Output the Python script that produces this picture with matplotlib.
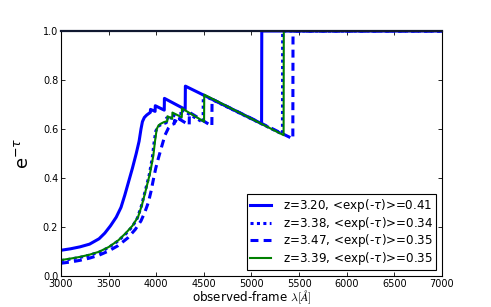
import matplotlib
matplotlib.use("Agg")
import matplotlib.pyplot as plt

# transmission curves (wavelength in Angstrom, exp(-tau))
lam_a = [3000, 3100, 3200, 3300, 3400, 3460, 3520, 3580, 3630, 3670, 3710, 3750,
         3790, 3820, 3840, 3855, 3875, 3900, 3938, 3940, 3988, 3990, 4084, 4086,
         4304, 4306, 5106, 5108, 7000]
t_a = [0.105, 0.111, 0.119, 0.13, 0.152, 0.175, 0.205, 0.24, 0.28, 0.33, 0.385, 0.44,
       0.5, 0.55, 0.6, 0.63, 0.647, 0.657, 0.668, 0.68, 0.672, 0.695, 0.677, 0.725,
       0.68, 0.775, 0.622, 1.0, 1.0]

lam_b = [3000, 3100, 3200, 3300, 3400, 3500, 3600, 3680, 3750, 3800, 3840, 3880,
         3925, 3958, 3976, 3994, 4015, 4040, 4080, 4106, 4108, 4158, 4160, 4258,
         4260, 4492, 4494, 5325, 5327, 7000]
t_b = [0.063, 0.069, 0.076, 0.085, 0.097, 0.116, 0.143, 0.172, 0.202, 0.235, 0.28, 0.34,
       0.41, 0.48, 0.54, 0.59, 0.608, 0.616, 0.622, 0.626, 0.645, 0.636, 0.66, 0.642,
       0.68, 0.627, 0.738, 0.579, 1.0, 1.0]

lam_c = [3000, 3100, 3200, 3300, 3400, 3500, 3600, 3700, 3780, 3840, 3880, 3917,
         3945, 3969, 3995, 4022, 4057, 4092, 4127, 4160, 4190, 4192, 4243, 4245,
         4346, 4348, 4584, 4586, 5434, 5436, 7000]
t_c = [0.052, 0.057, 0.064, 0.073, 0.085, 0.102, 0.124, 0.155, 0.19, 0.225, 0.26, 0.3,
       0.345, 0.392, 0.44, 0.48, 0.528, 0.575, 0.603, 0.618, 0.622, 0.635, 0.625, 0.64,
       0.616, 0.668, 0.612, 0.722, 0.56, 1.0, 1.0]

lam_d = [3000, 3100, 3200, 3300, 3400, 3500, 3600, 3680, 3750, 3810, 3850, 3890,
         3935, 3969, 3987, 4005, 4025, 4050, 4080, 4116, 4118, 4168, 4170, 4268,
         4270, 4502, 4504, 5337, 5339, 7000]
t_d = [0.065, 0.071, 0.078, 0.087, 0.099, 0.118, 0.145, 0.175, 0.205, 0.242, 0.29, 0.35,
       0.42, 0.49, 0.55, 0.6, 0.615, 0.622, 0.628, 0.632, 0.652, 0.642, 0.667, 0.648,
       0.684, 0.63, 0.74, 0.575, 1.0, 1.0]

labels = [r"z=3.20, <exp(-$\tau$)>=0.41",
          r"z=3.38, <exp(-$\tau$)>=0.34",
          r"z=3.47, <exp(-$\tau$)>=0.35",
          r"z=3.39, <exp(-$\tau$)>=0.35"]

fig = plt.figure(figsize=(4.91, 3.07), dpi=100)
ax = fig.add_axes([0.1242, 0.101, 0.776, 0.798])

ax.plot(lam_a, t_a, color="#0000ff", lw=2.2, label=labels[0])
ax.plot(lam_b, t_b, color="#0000ff", lw=2.2, ls=(0, (1, 1.1)), label=labels[1])
ax.plot(lam_c, t_c, color="#0000ff", lw=2.2, ls=(0, (2.6, 1.7)), label=labels[2])
ax.plot(lam_d, t_d, color="#008000", lw=1.5, label=labels[3])

ax.set_xlim(3000, 7000)
ax.set_ylim(0, 1)
ax.set_xticks(range(3000, 7001, 500))
ax.set_yticks([0.0, 0.2, 0.4, 0.6, 0.8, 1.0])
ax.tick_params(direction="in", top=True, right=True, length=3, width=0.6,
               labelsize=7)
ax.tick_params(axis="x", pad=2.5)
ax.tick_params(axis="y", pad=2)
for s in ax.spines.values():
    s.set_linewidth(0.8)
    s.set_zorder(5)
ax.spines["top"].set_linewidth(1.6)
ax.spines["top"].set_color("#101830")

ax.set_xlabel(r"observed-frame $\lambda [\AA]$", fontsize=8.6, math_fontfamily="cm")
ax.xaxis.set_label_coords(0.5, -0.104)
ax.xaxis.label.set_va("baseline")
ax.set_ylabel(r"e$^{-\tau}$", fontsize=13, labelpad=8)

leg = ax.legend(loc="lower right", fontsize=8.6, handlelength=1.7,
                handletextpad=1.0, fancybox=False, framealpha=1, borderpad=0.25,
                labelspacing=0.05, borderaxespad=0.5)
leg.get_frame().set_edgecolor("black")
leg.get_frame().set_linewidth(0.8)

fig.savefig("out.png", dpi=100)
